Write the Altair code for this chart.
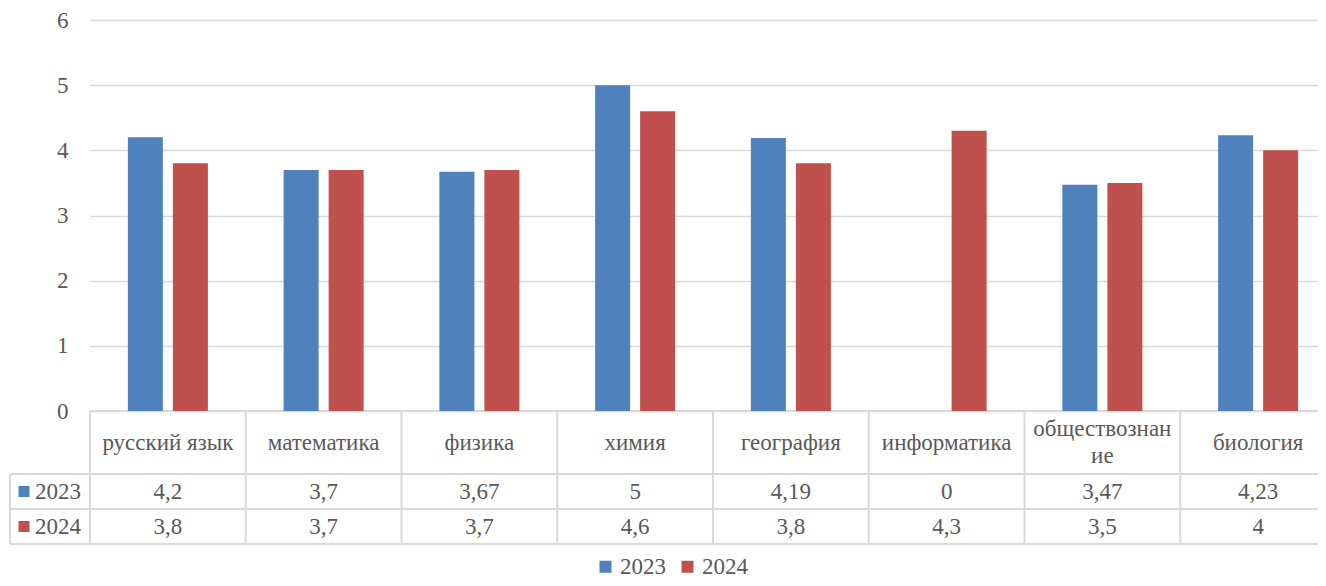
import altair as alt
import pandas as pd

categories = ["русский язык", "математика", "физика", "химия", "география",
              "информатика", "обществознание", "биология"]
header_labels = ["русский язык", "математика", "физика", "химия", "география",
                 "информатика", "обществознан\nие", "биология"]
years = ["2023", "2024"]
values_2023 = [4.2, 3.7, 3.67, 5, 4.19, 0, 3.47, 4.23]
values_2024 = [3.8, 3.7, 3.7, 4.6, 3.8, 4.3, 3.5, 4]
y_ticks = [0, 1, 2, 3, 4, 5, 6]
colors = ["#4f81bd", "#c0504d"]

FONT = "'Liberation Serif', 'Times New Roman', 'DejaVu Serif', serif"
TXT = "#595959"
GRID = "#d9d9d9"
FS = 23
W = 1246
H = 391
TOP = 12
S = -2  # table shift relative to plot origin


def fmt(v):
    return f"{v:g}".replace(".", ",")


rows = []
for yr, vals in zip(years, [values_2023, values_2024]):
    for c, h, v in zip(categories, header_labels, vals):
        rows.append({"category": c, "header": h, "year": yr, "value": v, "label": fmt(v)})
df = pd.DataFrame(rows)
cat_df = pd.DataFrame({"category": categories, "header": header_labels})
year_df = pd.DataFrame({"year": years})

x_scale = alt.Scale(domain=categories, paddingInner=0, paddingOuter=0)
color_scale = alt.Scale(domain=years, range=colors)

bars = alt.Chart(df).mark_bar().encode(
    x=alt.X("category:N", scale=x_scale, axis=None, sort=categories),
    xOffset=alt.XOffset("year:N", scale=alt.Scale(domain=years, paddingInner=0.222, paddingOuter=0.841)),
    y=alt.Y("value:Q", scale=alt.Scale(domain=[0, 6], nice=False),
            axis=alt.Axis(values=y_ticks, grid=True, gridColor=GRID, gridWidth=1.5,
                          domain=False, ticks=False, labelPadding=22, labelFontSize=FS,
                          labelFont=FONT, labelColor=TXT, title=None)),
    color=alt.Color("year:N", scale=color_scale,
                    legend=alt.Legend(orient="none", legendX=504, legendY=537 + S,
                                      direction="horizontal", title=None,
                                      symbolType="square", symbolSize=144,
                                      symbolStrokeWidth=0, labelFontSize=FS,
                                      labelFont=FONT, labelColor=TXT,
                                      labelOffset=3, columnPadding=10)),
)

header_single = alt.Chart(cat_df).transform_filter(
    "indexof(datum.header, '\\n') < 0"
).mark_text(
    font=FONT, fontSize=FS, color=TXT, baseline="middle"
).encode(
    x=alt.X("category:N", scale=x_scale, axis=None),
    y=alt.value(424.5 + S),
    text="header:N",
)
header_multi = alt.Chart(cat_df).transform_filter(
    "indexof(datum.header, '\\n') >= 0"
).mark_text(
    font=FONT, fontSize=FS, color=TXT, lineBreak="\n", baseline="middle", lineHeight=27
).encode(
    x=alt.X("category:N", scale=x_scale, axis=None),
    y=alt.value(411 + S),
    text="header:N",
)

vlines = alt.Chart(cat_df).mark_rule(color=GRID, strokeWidth=2).encode(
    x=alt.X("category:N", scale=x_scale, axis=None, bandPosition=0),
    y=alt.value(393 + S),
    y2=alt.value(526 + S),
)

one = alt.Data(values=[{}])
hl_top = alt.Chart(one).mark_rule(color=GRID, strokeWidth=2).encode(
    x=alt.value(0), x2=alt.value(W), y=alt.value(393 + S))
hl_1 = alt.Chart(one).mark_rule(color=GRID, strokeWidth=2).encode(
    x=alt.value(-80), x2=alt.value(W), y=alt.value(456 + S))
hl_2 = alt.Chart(one).mark_rule(color=GRID, strokeWidth=2).encode(
    x=alt.value(-80), x2=alt.value(W), y=alt.value(491 + S))
hl_3 = alt.Chart(one).mark_rule(color=GRID, strokeWidth=2).encode(
    x=alt.value(-80), x2=alt.value(W), y=alt.value(526 + S))
vl_left = alt.Chart(one).mark_rule(color=GRID, strokeWidth=2).encode(
    x=alt.value(-80), y=alt.value(456 + S), y2=alt.value(526 + S))

layers = [hl_top, hl_1, hl_2, hl_3, vl_left, vlines, bars, header_single, header_multi]
for yr, ypos in zip(years, [473.5 + S, 508.5 + S]):
    layers.append(
        alt.Chart(df).transform_filter(alt.datum.year == yr).mark_text(
            font=FONT, fontSize=FS, color=TXT, baseline="middle"
        ).encode(
            x=alt.X("category:N", scale=x_scale, axis=None),
            y=alt.value(ypos),
            text="label:N",
        )
    )
    layers.append(
        alt.Chart(year_df).transform_filter(alt.datum.year == yr).mark_text(
            font=FONT, fontSize=FS, color=TXT, baseline="middle", align="left"
        ).encode(x=alt.value(-55), y=alt.value(ypos), text="year:N")
    )
    layers.append(
        alt.Chart(year_df).transform_filter(alt.datum.year == yr).mark_square(
            size=121, opacity=1
        ).encode(x=alt.value(-66), y=alt.value(ypos),
                 color=alt.Color("year:N", scale=color_scale))
    )

chart = alt.layer(*layers).properties(
    width=W, height=H,
    autosize=alt.AutoSizeParams(type="none"),
    padding={"left": 82, "top": TOP, "right": -18, "bottom": 570 - TOP - H},
).configure_view(stroke=None)

chart.save("out.html", embed_options={"renderer": "svg", "actions": False})
